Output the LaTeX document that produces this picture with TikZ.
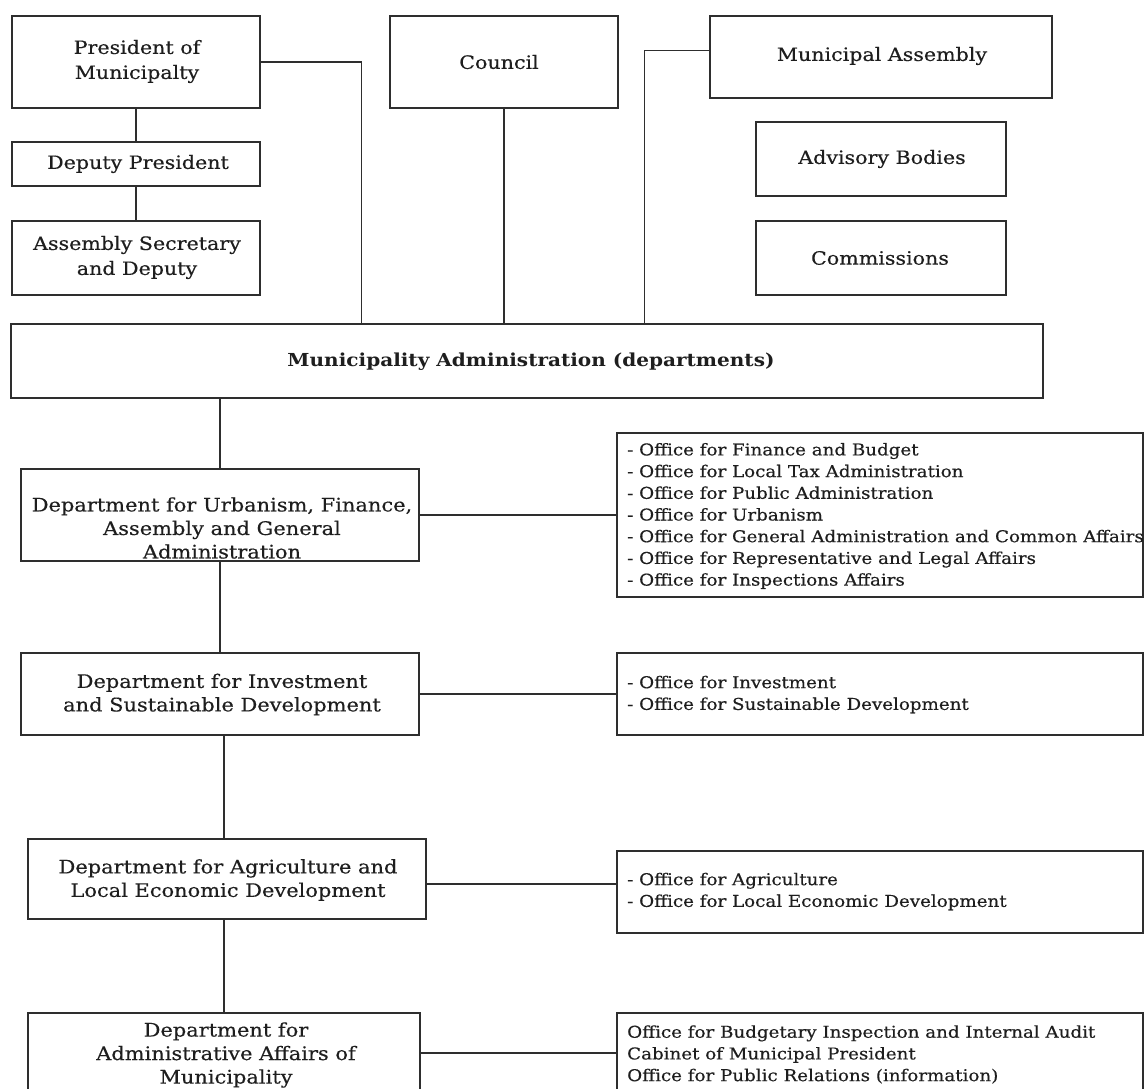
\documentclass[tikz,border=0pt]{standalone}
\usepackage{fontspec}
\setmainfont[FakeStretch=1.12, UprightFeatures={FakeBold=0.35}]{DejaVu Serif}
\usetikzlibrary{calc}
\definecolor{linecol}{HTML}{2E2E2E}
\definecolor{textcol}{HTML}{1E1E1E}
\newcommand\ftop{\fontsize{18.4}{25}\selectfont}
\newcommand\fdept{\fontsize{18.7}{23.5}\selectfont}
\newcommand\foff{\fontsize{16.3}{21.7}\selectfont}
\newcommand\fbar{\bfseries\fontsize{17.9}{22}\selectfont}
\tikzset{
  box/.style={draw=linecol, line width=1.4pt, rectangle, inner sep=0pt, fill=white},
  conn/.style={draw=linecol, line width=1.4pt},
  txt/.style={text=textcol, inner sep=0pt, align=center},
  offtxt/.style={text=textcol, inner sep=0pt, align=left, anchor=west, font=\foff}
}
\begin{document}
\begin{tikzpicture}[x=1pt,y=-1pt]
\clip (0,0) rectangle (1146,1088);
\fill[white] (0,0) rectangle (1146,1088);

% top boxes
\node[box, minimum width=248pt, minimum height=92pt] (pres) at (136,62) {};
\node[box, minimum width=248pt, minimum height=44pt] (dep) at (136,164) {};
\node[box, minimum width=248pt, minimum height=74pt] (sec) at (136,258) {};
\node[box, minimum width=228pt, minimum height=92pt] (council) at (504,62) {};
\node[box, minimum width=342pt, minimum height=82pt] (assem) at (881,57) {};
\node[box, minimum width=250pt, minimum height=74pt] (advis) at (881,159) {};
\node[box, minimum width=250pt, minimum height=74pt] (comm) at (881,258) {};
\node[box, minimum width=1032pt, minimum height=74pt] (bar) at (527,361) {};

% departments
\node[box, minimum width=398pt, minimum height=92pt] (d1) at (220,515) {};
\node[box, minimum width=398pt, minimum height=82pt] (d2) at (220,694) {};
\node[box, minimum width=398pt, minimum height=80pt] (d3) at (227,879) {};
\node[box, minimum width=392pt, minimum height=80pt] (d4) at (224,1053) {};

% offices
\node[box, minimum width=526pt, minimum height=164pt] (o1) at (880,515) {};
\node[box, minimum width=526pt, minimum height=82pt] (o2) at (880,694) {};
\node[box, minimum width=526pt, minimum height=82pt] (o3) at (880,892) {};
\node[box, minimum width=526pt, minimum height=80pt] (o4) at (880,1053) {};

% connectors
\draw[conn] (pres.south) -- (dep.north);
\draw[conn] (dep.south) -- (sec.north);
\draw[conn] (pres.east) -| ($(bar.north west)+(351,0)$);
\draw[conn] (council.south) -- (council.south |- bar.north);
\draw[conn] ($(assem.north west)+(0,35)$) -| ($(bar.north west)+(634,0)$);
\draw[conn] (bar.south -| d1.north) -- (d1.north);
\draw[conn] (d1.south) -- (d2.north);
\draw[conn] (d2.south -| d4.north) -- (d3.north -| d4.north);
\draw[conn] (d3.south -| d4.north) -- (d4.north);
\draw[conn] (d1.east) -- (d1.east -| o1.west);
\draw[conn] (d2.east) -- (d2.east -| o2.west);
\draw[conn] ($(d3.east)+(0,5)$) coordinate (c3) -- (c3 -| o3.west);
\draw[conn] (d4.east) -- (d4.east -| o4.west);

% texts
\node[txt, font=\ftop] (tpres) at (137,61.5) {President of\\Municipalty};
\node[txt, font=\ftop] (tdep) at (138,164) {Deputy President};
\node[txt, font=\ftop] (tsec) at (137,257.5) {Assembly Secretary\\and Deputy};
\node[txt, font=\ftop] (tcouncil) at (499,62) {Council};
\node[txt, font=\ftop] (tassem) at (882,56) {Municipal Assembly};
\node[txt, font=\ftop] (tadvis) at (882,159) {Advisory Bodies};
\node[txt, font=\ftop] (tcomm) at (880,258) {Commissions};
\node[txt, font=\fbar] (tbar) at (531,362) {Municipality Administration (departments)};

\node[txt, font=\fdept] (td1) at (222,528) {Department for Urbanism, Finance,\\Assembly and General\\Administration};
\node[txt, font=\fdept] (td2) at (222,694.5) {Department for Investment\\and Sustainable Development};
\node[txt, font=\fdept] (td3) at (228,880) {Department for Agriculture and\\Local Economic Development};
\node[txt, font=\fdept] (td4) at (226,1055) {Department for\\Administrative Affairs of\\Municipality};

\node[offtxt] (to1) at (627,516) {- Office for Finance and Budget\\- Office for Local Tax Administration\\- Office for Public Administration\\- Office for Urbanism\\- Office for General Administration and Common Affairs\\- Office for Representative and Legal Affairs\\- Office for Inspections Affairs};
\node[offtxt] (to2) at (627,694.5) {- Office for Investment\\- Office for Sustainable Development};
\node[offtxt] (to3) at (627,891.5) {- Office for Agriculture\\- Office for Local Economic Development};
\node[offtxt] (to4) at (627,1054.5) {Office for Budgetary Inspection and Internal Audit\\Cabinet of Municipal President\\Office for Public Relations (information)};
\end{tikzpicture}
\end{document}
